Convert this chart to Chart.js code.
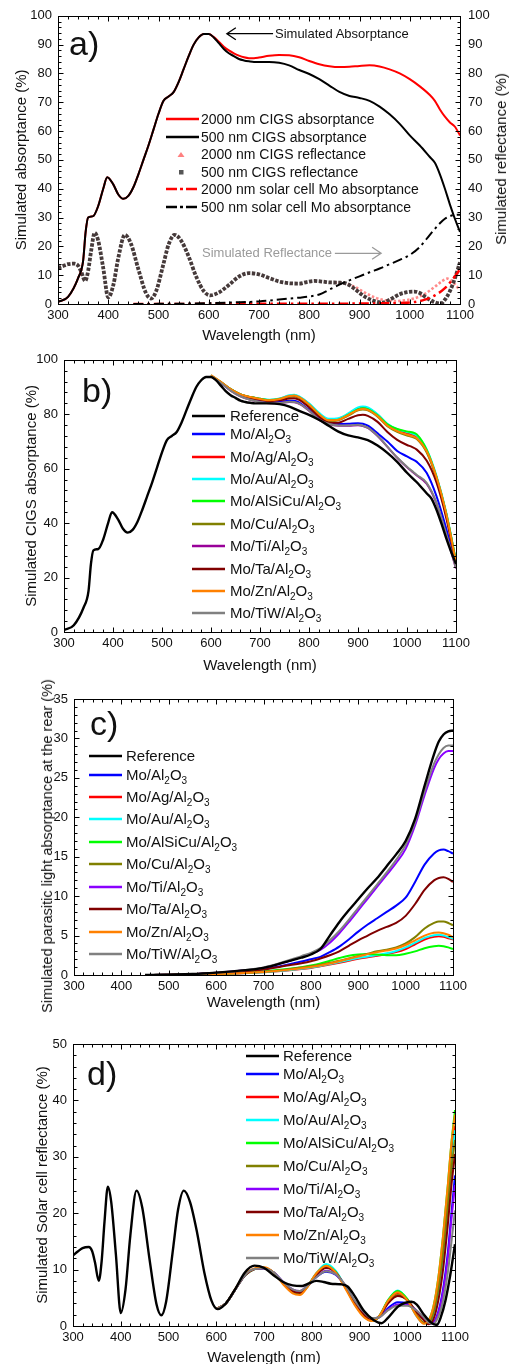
<!DOCTYPE html>
<html>
<head>
<meta charset="utf-8">
<script src="https://cdn.jsdelivr.net/npm/chart.js@4.4.1/dist/chart.umd.min.js"></script>
<style>
  html, body { margin: 0; padding: 0; background: #fff; overflow: hidden; }
  body { width: 513px; height: 1364px; position: relative; font-family: "Liberation Sans", Arial, sans-serif; color: #111; }
  canvas { position: absolute; left: 0; display: block; }
  .tag { position: absolute; font-size: 34px; line-height: 34px; }
  .leg { position: absolute; white-space: nowrap; height: 18px; line-height: 18px; width: 300px; }
  .leg svg { position: absolute; left: 0; top: 0; }
  .leg span { position: absolute; top: 0; }
  sub { font-size: 10px; vertical-align: -4px; line-height: 0; }
  .note { position: absolute; font-size: 13px; line-height: 16px; white-space: nowrap; }
  .vtitle { position: absolute; white-space: nowrap; transform: translate(-50%, -50%) rotate(-90deg); line-height: 18px; }
</style>
</head>
<body>
<canvas id="chartA" width="513" height="346" style="top:0px"></canvas>
<canvas id="chartB" width="513" height="330" style="top:346px"></canvas>
<canvas id="chartC" width="513" height="358" style="top:662px"></canvas>
<canvas id="chartD" width="513" height="352" style="top:1020px"></canvas>

<div class="tag" style="left:69px;top:26px">a)</div>
<div class="tag" style="left:82px;top:373px">b)</div>
<div class="tag" style="left:90px;top:706px">c)</div>
<div class="tag" style="left:87px;top:1056px">d)</div>

<div class="note" style="left:275px;top:26px">Simulated Absorptance</div>
<div class="note" style="left:202px;top:245px;color:#9a9a9a">Simulated Reflectance</div>
<div class="vtitle" style="left:501px;top:159px;font-size:15px">Simulated reflectance (%)</div>
<div class="vtitle" style="left:47px;top:846px;font-size:14.5px">Simulated parasitic light absorptance at the rear (%)</div>

<script>
// ---- panel a / shared data ----
const WL_ABS = [300, 320, 340, 350, 355, 360, 370, 380, 390, 398, 410, 420, 430, 440, 450, 460, 470, 480, 490, 500,
  510, 520, 530, 540, 550, 560, 570, 580, 590, 600, 610, 620, 630, 640, 650, 660, 670, 680, 690, 700,
  720, 740, 760, 780, 800, 820, 840, 860, 880, 900, 920, 940, 960, 980, 1000, 1020, 1040, 1050, 1060, 1070,
  1080, 1090, 1100];
// 500 nm CIGS absorptance (= reference of panel b)
const ABS_500 = [0.7, 2.5, 9, 15, 25, 30, 30.5, 34, 40, 44, 41.5, 38, 36.5, 37.5, 40.5, 45, 50, 55, 60.5, 66,
  70.5, 72, 73.5, 77, 81.5, 86, 90, 92.5, 93.7, 93.7, 92.5, 90.5, 88.5, 87, 86, 85, 84.5, 84.2, 84, 84,
  84, 83.7, 82.8, 81.2, 79.8, 78, 75.8, 73.6, 72.2, 71.5, 70.5, 68.5, 65.8, 62.5, 58.5, 55, 51, 49, 45, 40,
  34.5, 29.5, 25];
const ABS_2000 = [0.7, 2.5, 9, 15, 25, 30, 30.5, 34, 40, 44, 41.5, 38, 36.5, 37.5, 40.5, 45, 50, 55, 60.5, 66,
  70.5, 72, 73.5, 77, 81.5, 86, 90, 92.5, 93.7, 93.7, 92.6, 91, 89.3, 88, 87, 86.2, 85.6, 85.3, 85.3, 85.5,
  86.1, 86.4, 86.3, 85.6, 84.3, 83.2, 82.5, 82.2, 82.3, 82.6, 82.8, 82.4, 81.4, 80, 78, 75.5, 72.5, 70.5, 67.5, 65,
  63, 61.5, 58.5];

const WL_REFL = [300, 310, 320, 333, 340, 346, 354, 360, 366, 373, 380, 390, 400, 410, 420, 433, 445, 460, 475, 485,
  495, 510, 520, 532, 545, 560, 575, 590, 603, 620, 640, 660, 680, 700, 720, 740, 760, 780, 795, 810,
  825, 840, 860, 875, 890, 910, 930, 946, 960, 980, 995, 1009, 1020, 1035, 1050, 1062, 1070, 1080, 1090, 1100];
// 500 nm CIGS reflectance (= reference of panel d)
const REFL_500 = [12.5, 13.2, 13.8, 14.0, 13.3, 11.3, 8.0, 11.5, 18.5, 24.7, 22, 12.5, 2.3, 6.5, 16, 24, 21, 12, 3.8, 1.9,
  4.3, 14, 20.6, 24, 22, 16.5, 9.5, 4.5, 3.0, 4.0, 6.6, 9.5, 10.7, 10.3, 9.0, 7.8, 7.2, 7.1, 7.6, 8.0,
  7.8, 7.5, 7.4, 7.0, 5.3, 2.6, 1.0, 0.5, 1.5, 3.4, 4.1, 4.3, 3.8, 2.0, 0.6, 0.2, 1.5, 4.5, 9.0, 14.5];
const WL_REFL_2000 = [850, 870, 890, 910, 930, 950, 970, 990, 1010, 1030, 1050, 1065, 1075, 1085, 1095, 1100];
const REFL_2000 = [7.4, 7.2, 6.0, 4.0, 2.3, 1.3, 1.0, 1.3, 2.0, 3.5, 6.0, 8.0, 8.8, 7.8, 5.8, 5.0];

// rear (Mo) absorptance, grid shared with panel c
const WL_C = [450, 500, 550, 600, 650, 700, 750, 780, 800, 820, 840, 860, 880, 900, 920, 940, 960, 980, 1000, 1020,
  1040, 1060, 1070, 1080, 1090, 1100];
const MO_500 = [0, 0.05, 0.12, 0.3, 0.55, 0.9, 1.7, 2.2, 2.6, 3.3, 5.0, 6.7, 8.2, 9.6, 11, 12.3, 13.8, 15.3, 17, 19.8,
  24, 28, 29.6, 30.5, 30.9, 31];
const WL_MO_2000 = [450, 600, 700, 800, 900, 950, 1000, 1030, 1050, 1070, 1085, 1100];
const MO_2000 = [0, 0.05, 0.1, 0.1, 0.15, 0.25, 0.5, 1.5, 3, 5.5, 8.5, 12];

// ---- panel b: CIGS absorptance ----
const WL_B = [600, 620, 640, 660, 680, 700, 720, 740, 760, 770, 780, 800, 820, 840, 860, 880, 900, 910, 920, 940,
  960, 980, 1000, 1010, 1020, 1040, 1060, 1080, 1100];
const B_AL2O3 = [94.0, 91.5, 88.8, 86.8, 85.6, 84.8, 84.3, 84.5, 85.0, 85.0, 84.3, 81.6, 78.4, 77.0, 76.4, 76.5, 76.7, 76.5, 75.8, 73,
  70, 66.5, 64.5, 63.5, 62.5, 58.5, 50, 38, 24];
const B_AG = [94.2, 91.8, 89.2, 87.3, 86.3, 85.7, 85.2, 85.7, 86.8, 87.0, 86.4, 83.8, 80.3, 78, 78.3, 80, 82.2, 82.5, 82.2, 79.8,
  76.2, 74.2, 73, 72.5, 71.7, 66.5, 57, 43.5, 25.8];
const B_AU = [94.3, 91.8, 89.2, 87.3, 86.3, 85.7, 85.3, 85.8, 87.0, 87.2, 86.6, 84, 80.6, 78.3, 78.5, 80.3, 82.5, 82.8, 82.5, 80,
  76.5, 74.5, 73.5, 73, 72.2, 67.2, 57.5, 44, 26];
const B_ALSICU = [94.2, 91.8, 89.2, 87.3, 86.3, 85.7, 85.2, 85.6, 86.6, 86.8, 86.2, 83.5, 80, 77.6, 78, 79.8, 81.8, 82.2, 81.9, 79.6,
  76.3, 74.6, 73.7, 73.4, 72.6, 67, 57, 43.5, 26];
const B_CU = [94.2, 91.8, 89.2, 87.3, 86.3, 85.6, 85.0, 85.4, 86.4, 86.6, 86.0, 83.4, 79.8, 77.6, 77.8, 79.5, 81.4, 81.7, 81.4, 79.1,
  75.6, 73.5, 72.2, 71.7, 70.9, 66, 56.5, 43, 25.3];
const B_TI = [94.0, 91.5, 88.7, 86.6, 85.3, 84.5, 84.0, 84.1, 84.5, 84.4, 83.8, 81.3, 78.0, 76.4, 75.8, 75.8, 76.0, 75.7, 75, 72,
  68, 64, 60.5, 59, 57.5, 54.5, 47.3, 35.8, 23.3];
const B_TA = [94.1, 91.7, 89.0, 87.1, 86.0, 85.3, 84.8, 85.1, 85.8, 85.9, 85.3, 82.6, 79.2, 77.0, 76.9, 78.3, 79.6, 79.8, 79.4, 77.2,
  73.5, 70.6, 68.7, 68, 67, 63, 55, 42, 25];
const B_ZN = [94.4, 91.9, 89.2, 87.3, 86.3, 85.6, 85.1, 85.6, 86.7, 86.9, 86.3, 83.6, 80.1, 77.8, 78.0, 79.7, 81.6, 81.9, 81.6, 79.3,
  75.8, 73.8, 72.5, 72, 71.2, 66.5, 57, 43.5, 25.5];
const B_TIW = [94.0, 91.5, 88.7, 86.6, 85.3, 84.5, 84.0, 84.1, 84.6, 84.5, 83.9, 81.4, 78.1, 76.5, 75.9, 75.9, 76.1, 75.8, 75.1, 72.1,
  68.1, 64.1, 60.7, 59.2, 57.7, 54.8, 47.6, 36, 23.5];

// ---- panel c: parasitic absorptance at the rear ----
const C_AL2O3 = [0, 0.04, 0.1, 0.25, 0.45, 0.75, 1.3, 1.7, 2.0, 2.3, 2.9, 3.6, 4.5, 5.5, 6.4, 7.2, 8.0, 8.8, 9.8, 11.8,
  14.0, 15.4, 15.8, 15.9, 15.7, 15.4];
const C_AG = [0, 0.02, 0.05, 0.11, 0.2, 0.34, 0.57, 0.75, 0.9, 1.1, 1.32, 1.55, 1.8, 2.05, 2.25, 2.45, 2.65, 2.9, 3.3, 3.9,
  4.5, 4.85, 4.9, 4.85, 4.65, 4.5];
const C_AU = [0, 0.02, 0.05, 0.12, 0.22, 0.36, 0.6, 0.8, 0.95, 1.15, 1.4, 1.65, 1.9, 2.15, 2.35, 2.55, 2.75, 3.05, 3.5, 4.1,
  4.7, 5.05, 5.1, 5.0, 4.8, 4.6];
const C_ALSICU = [0, 0.02, 0.06, 0.15, 0.28, 0.45, 0.75, 1.0, 1.2, 1.45, 1.8, 2.15, 2.45, 2.6, 2.65, 2.6, 2.5, 2.5, 2.7, 3.0,
  3.4, 3.65, 3.7, 3.65, 3.5, 3.3];
const C_CU = [0, 0.02, 0.05, 0.12, 0.25, 0.4, 0.7, 0.95, 1.1, 1.3, 1.55, 1.8, 2.1, 2.4, 2.7, 3.0, 3.2, 3.5, 4.0, 4.8,
  5.9, 6.6, 6.8, 6.8, 6.6, 6.3];
const C_TI = [0, 0.05, 0.12, 0.3, 0.55, 0.9, 1.7, 2.3, 2.7, 3.2, 4.1, 5.3, 6.7, 8.2, 9.7, 11.2, 12.7, 14.2, 16.0, 19.0,
  22.8, 26.2, 27.4, 28.1, 28.4, 28.4];
const C_TA = [0, 0.04, 0.1, 0.25, 0.42, 0.7, 1.2, 1.5, 1.75, 2.1, 2.5, 3.0, 3.7, 4.4, 5.0, 5.6, 6.1, 6.6, 7.5, 9.0,
  10.8, 12.0, 12.3, 12.4, 12.2, 11.8];
const C_ZN = [0, 0.02, 0.05, 0.12, 0.23, 0.38, 0.65, 0.85, 1.0, 1.2, 1.45, 1.75, 2.05, 2.35, 2.65, 2.9, 3.1, 3.35, 3.8, 4.4,
  5.0, 5.35, 5.4, 5.3, 5.1, 4.8];
const C_TIW = [0, 0.05, 0.12, 0.3, 0.55, 0.95, 1.8, 2.4, 2.8, 3.4, 4.4, 5.6, 7.0, 8.5, 10, 11.5, 13, 14.6, 16.5, 19.4,
  23.3, 26.8, 28.0, 28.8, 29.1, 29.1];

// ---- panel d: solar cell reflectance ----
const WL_D = [600, 620, 640, 660, 680, 700, 720, 740, 760, 775, 790, 810, 830, 850, 870, 890, 910, 925, 940, 960,
  980, 1000, 1020, 1035, 1045, 1055, 1065, 1075, 1085, 1092, 1100];
const D_AL2O3 = [3, 4, 6.5, 9, 10.1, 10.2, 9.5, 7.8, 6.4, 6.1, 7.0, 8.7, 9.6, 9.1, 7.1, 4.3, 2.2, 1.3, 1.5, 3.2,
  4.2, 4.0, 2.6, 1.3, 0.4, 0.6, 2.5, 6.5, 13, 19.5, 26.7];
const D_AG = [3, 4, 6.5, 9, 10.1, 10.3, 9.5, 7.6, 6.0, 5.7, 6.9, 9.3, 10.6, 9.6, 6.9, 3.9, 1.7, 1.0, 1.6, 4.4,
  5.8, 4.6, 1.8, 0.5, 0.7, 2.8, 7, 14, 22.5, 29.5, 35.5];
const D_AU = [3, 4, 6.5, 9, 10.1, 10.3, 9.5, 7.6, 6.0, 5.7, 6.9, 9.4, 11, 9.8, 7.0, 4.0, 1.7, 1.0, 1.6, 4.6,
  6.3, 4.7, 1.7, 0.5, 0.5, 2, 5.5, 11.5, 20, 27, 34.7];
const D_ALSICU = [3, 4, 6.5, 9, 10.1, 10.3, 9.5, 7.6, 6.0, 5.7, 6.9, 9.3, 10.7, 9.6, 6.9, 3.9, 1.7, 1.0, 1.6, 4.6,
  6.2, 4.8, 1.9, 0.5, 1.0, 3.5, 8.5, 16, 25, 32, 38.3];
const D_CU = [3, 4, 6.5, 9, 10.1, 10.3, 9.5, 7.6, 6.0, 5.7, 6.9, 9.2, 10.4, 9.5, 6.9, 4.0, 1.8, 1.0, 1.6, 4.2,
  5.5, 4.5, 1.9, 0.6, 0.6, 2.4, 6.5, 13, 21, 27.5, 33];
const D_TI = [3, 4, 6.5, 9, 10.1, 10.2, 9.5, 7.8, 6.5, 6.2, 7.1, 8.8, 9.8, 9.2, 7.2, 4.4, 2.3, 1.4, 1.5, 2.9,
  3.8, 3.8, 2.7, 1.4, 0.5, 0.6, 2.3, 6, 12, 18.5, 25];
const D_TA = [3, 4, 6.5, 9, 10.1, 10.3, 9.5, 7.7, 6.2, 5.9, 6.9, 9.1, 10.3, 9.5, 7.0, 4.1, 1.9, 1.1, 1.5, 4.0,
  5.3, 4.6, 2.4, 1.0, 0.3, 1.2, 4.5, 10, 18, 24.5, 30.5];
const D_ZN = [3, 4, 6.6, 9.2, 10.2, 10.4, 9.5, 7.4, 5.8, 5.5, 6.8, 9.4, 10.7, 9.5, 6.7, 3.7, 1.5, 0.9, 1.6, 4.5,
  6.0, 4.6, 1.7, 0.4, 1.0, 3.5, 8.5, 16, 25, 32, 37.5];
const D_TIW = [3, 4, 6.5, 9, 10.1, 10.2, 9.5, 7.8, 6.5, 6.2, 7.1, 8.7, 9.7, 9.2, 7.3, 4.5, 2.4, 1.4, 1.5, 2.8,
  3.6, 3.6, 2.7, 1.5, 0.6, 0.4, 1.6, 4.5, 9.5, 14.5, 20.5];

const A_LABELS = ["2000 nm CIGS absorptance", "500 nm CIGS absorptance", "2000 nm CIGS reflectance",
  "500 nm CIGS reflectance", "2000 nm solar cell Mo absorptance", "500 nm solar cell Mo absorptance"];
const STACKS = ["Reference", "Mo/Al2O3", "Mo/Ag/Al2O3", "Mo/Au/Al2O3", "Mo/AlSiCu/Al2O3", "Mo/Cu/Al2O3",
  "Mo/Ti/Al2O3", "Mo/Ta/Al2O3", "Mo/Zn/Al2O3", "Mo/TiW/Al2O3"];

const B_SERIES = [B_AL2O3, B_AG, B_AU, B_ALSICU, B_CU, B_TI, B_TA, B_ZN, B_TIW];
const C_SERIES = [C_AL2O3, C_AG, C_AU, C_ALSICU, C_CU, C_TI, C_TA, C_ZN, C_TIW];
const D_SERIES = [D_AL2O3, D_AG, D_AU, D_ALSICU, D_CU, D_TI, D_TA, D_ZN, D_TIW];

const FONT = '"Liberation Sans", Arial, Helvetica, sans-serif';
const INK = "#111";
const STACK_COLORS = ["#000000", "#0000ff", "#ff0000", "#00ffff", "#00ff00", "#808000", "#8a00ff", "#800000", "#ff8000", "#808080"];

Chart.defaults.font.family = FONT;

// frame + inward ticks on all four sides
const frameTicks = {
  id: "frameTicks",
  afterDatasetsDraw(chart, args, opts) {
    const { ctx, chartArea: a } = chart;
    const xs = chart.scales.x, ys = chart.scales.y;
    const L = Math.round(a.left) + 0.5, R = Math.round(a.right) + 0.5;
    const T = Math.round(a.top) + 0.5, B = Math.round(a.bottom) + 0.5;
    ctx.save();
    ctx.strokeStyle = "#000";
    ctx.lineWidth = 1;
    ctx.beginPath();
    const nx = Math.round((xs.max - xs.min) / opts.xMinor);
    for (let i = 0; i <= nx; i++) {
      const px = Math.round(xs.getPixelForValue(xs.min + i * opts.xMinor)) + 0.5;
      const len = i % opts.xEvery === 0 ? 5 : 3;
      ctx.moveTo(px, B); ctx.lineTo(px, B - len);
      ctx.moveTo(px, T); ctx.lineTo(px, T + len);
    }
    const ny = Math.round((ys.max - ys.min) / opts.yMinor);
    for (let i = 0; i <= ny; i++) {
      const py = Math.round(ys.getPixelForValue(ys.min + i * opts.yMinor)) + 0.5;
      const len = i % opts.yEvery === 0 ? 5 : 3;
      ctx.moveTo(L, py); ctx.lineTo(L + len, py);
      ctx.moveTo(R, py); ctx.lineTo(R - len, py);
    }
    ctx.stroke();
    ctx.strokeRect(L, T, R - L, B - T);
    ctx.restore();
  }
};

// open-head arrows used by the notes in panel a
const arrows = {
  id: "arrows",
  afterDatasetsDraw(chart, args, opts) {
    if (!opts || !opts.items) return;
    const { ctx } = chart;
    const xs = chart.scales.x, ys = chart.scales.y;
    ctx.save();
    opts.items.forEach((it) => {
      const x1 = xs.getPixelForValue(it.from), x2 = xs.getPixelForValue(it.to);
      const y = ys.getPixelForValue(it.y);
      const dir = x2 > x1 ? 1 : -1;
      ctx.strokeStyle = it.color;
      ctx.lineWidth = 1.3;
      ctx.beginPath();
      ctx.moveTo(x1, y); ctx.lineTo(x2, y);
      ctx.moveTo(x2 - dir * 9, y - 6); ctx.lineTo(x2, y); ctx.lineTo(x2 - dir * 9, y + 6);
      ctx.stroke();
    });
    ctx.restore();
  }
};

Chart.register(frameTicks, arrows);

function pts(wl, vals) {
  return wl.map((x, i) => ({ x: x, y: vals[i] }));
}

function lineSet(wl, vals, color, width, order, extra) {
  return Object.assign({
    data: pts(wl, vals),
    borderColor: color,
    backgroundColor: color,
    borderWidth: width,
    pointRadius: 0,
    fill: false,
    cubicInterpolationMode: "monotone",
    order: order
  }, extra || {});
}

function axisFont(size) {
  return { family: FONT, size: size };
}

function makePanel(id, box, datasets, yCfg, extra) {
  const scales = {
    x: {
      type: "linear", min: 300, max: 1100,
      ticks: { stepSize: 100, padding: 4, color: INK, font: axisFont(13), maxRotation: 0, autoSkip: false, callback: (v) => String(v) },
      grid: { display: false, drawTicks: false },
      border: { display: false },
      title: { display: true, text: "Wavelength (nm)", color: INK, font: axisFont(15), padding: 0 },
      afterFit: (s) => { s.height = box.h - box.pad.b - box.area.b; }
    },
    y: {
      type: "linear", position: "left", min: 0, max: yCfg.max,
      ticks: { stepSize: yCfg.step, padding: 6, color: INK, font: axisFont(13), callback: (v) => String(v) },
      grid: { display: false, drawTicks: false },
      border: { display: false },
      title: { display: !!yCfg.title, text: yCfg.title || "", color: INK, font: axisFont(15), padding: 0 },
      afterFit: (s) => { s.width = box.area.l - box.pad.l; }
    }
  };
  if (extra && extra.rightAxis) {
    scales.y2 = {
      type: "linear", position: "right", min: 0, max: yCfg.max,
      ticks: { stepSize: yCfg.step, padding: 8, color: INK, font: axisFont(13), callback: (v) => String(v) },
      grid: { display: false, drawTicks: false },
      border: { display: false },
      afterFit: (s) => { s.width = (513 - box.pad.r) - box.area.r; }
    };
  }
  return new Chart(document.getElementById(id), {
    type: "line",
    data: { datasets: datasets },
    options: {
      responsive: false,
      animation: false,
      events: [],
      layout: { padding: { top: box.area.t, left: box.pad.l, right: box.pad.r, bottom: box.pad.b } },
      scales: scales,
      plugins: {
        legend: { display: false },
        tooltip: { enabled: false },
        frameTicks: { xMinor: 20, xEvery: 5, yMinor: yCfg.minor, yEvery: Math.round(yCfg.step / yCfg.minor) },
        arrows: (extra && extra.arrows) || {}
      }
    }
  });
}

// ---- HTML legends (real text, with subscripts) ----
function subHTML(s) {
  return s.replace(/(\d)/g, "<sub>$1</sub>");
}

function sampleSVG(kind, color) {
  if (kind === "tri") {
    return '<svg width="34" height="18"><polygon points="15,7 18.5,12 11.5,12" fill="' + color + '"/></svg>';
  }
  if (kind === "sq") {
    return '<svg width="34" height="18"><rect x="13" y="7" width="4.5" height="4.5" fill="' + color + '"/></svg>';
  }
  const dash = kind === "dashdot" ? ' stroke-dasharray="11 3 3 3"' : "";
  return '<svg width="34" height="18"><line x1="0" y1="9" x2="33" y2="9" stroke="' + color +
    '" stroke-width="2.5"' + dash + "/></svg>";
}

function addLegend(items, x0, textX, rows, size) {
  items.forEach((it, i) => {
    const row = document.createElement("div");
    row.className = "leg";
    row.style.left = x0 + "px";
    row.style.top = rows[i] - 9 + "px";
    row.style.fontSize = size + "px";
    row.innerHTML = sampleSVG(it.kind, it.color) + '<span style="left:' + (textX - x0) + 'px">' + it.html + "</span>";
    document.body.appendChild(row);
  });
}

function stackLegend(tiColor) {
  return STACKS.map((s, i) => ({ kind: "line", color: i === 6 ? tiColor : STACK_COLORS[i], html: subHTML(s) }));
}

function stackDatasets(refWl, refVals, wl, series, tiColor) {
  const sets = [lineSet(refWl, refVals, "#000", 2.4, 0)];
  series.forEach((vals, i) => {
    const color = i === 5 ? tiColor : STACK_COLORS[i + 1];
    sets.push(lineSet(wl, vals, color, 2, 9 - i));
  });
  return sets;
}

// ---- panel a ----
makePanel("chartA",
  { h: 346, area: { l: 58, r: 460, t: 14, b: 304 }, pad: { l: 13, r: 4, b: 1 } },
  [
    lineSet(WL_ABS, ABS_500, "#000", 2, 1),
    lineSet(WL_ABS, ABS_2000, "#ff0000", 2, 2),
    lineSet(WL_C, MO_500, "#000", 2, 3, { yAxisID: "y2", borderDash: [10, 4, 2.5, 4] }),
    lineSet(WL_MO_2000, MO_2000, "#ff0000", 2.5, 4, { yAxisID: "y2", borderDash: [10, 4, 2.5, 4] }),
    lineSet(WL_REFL, REFL_500, "#463a3a", 3.8, 5, { yAxisID: "y2", borderDash: [3.4, 1.5] }),
    lineSet(WL_REFL_2000, REFL_2000, "#ff8a8a", 2.6, 6, { yAxisID: "y2", borderDash: [2.5, 2] })
  ],
  { max: 100, step: 10, minor: 2, title: "Simulated absorptance (%)" },
  {
    rightAxis: true,
    arrows: { items: [
      { from: 728, to: 636, y: 93.8, color: "#000" },
      { from: 851, to: 943, y: 17.6, color: "#9a9a9a" }
    ] }
  }
);
addLegend([
  { kind: "line", color: "#ff0000", html: A_LABELS[0] },
  { kind: "line", color: "#000", html: A_LABELS[1] },
  { kind: "tri", color: "#ff8080", html: A_LABELS[2] },
  { kind: "sq", color: "#555", html: A_LABELS[3] },
  { kind: "dashdot", color: "#ff0000", html: A_LABELS[4] },
  { kind: "dashdot", color: "#000", html: A_LABELS[5] }
], 166, 201, [119, 137, 154, 172, 189, 207], 14);

// ---- panel b ----
makePanel("chartB",
  { h: 330, area: { l: 64, r: 456, t: 10, b: 286 }, pad: { l: 23, r: 57, b: 1 } },
  stackDatasets(WL_ABS, ABS_500, WL_B, B_SERIES, "#990099"),
  { max: 100, step: 20, minor: 4, title: "Simulated CIGS absorptance (%)" }
);
addLegend(stackLegend("#990099"), 192, 230, [416, 434, 457, 479, 501, 524, 546, 569, 591, 613], 15);

// ---- panel c ----
makePanel("chartC",
  { h: 358, area: { l: 74, r: 453, t: 37, b: 313 }, pad: { l: 38, r: 60, b: 8 } },
  stackDatasets(WL_C, MO_500, WL_C, C_SERIES, "#8a00ff"),
  { max: 35, step: 5, minor: 1, title: "" }
);
addLegend(stackLegend("#8a00ff"), 89, 126, [756, 775, 797, 819, 842, 864, 887, 909, 932, 954], 15);

// ---- panel d ----
makePanel("chartD",
  { h: 352, area: { l: 73, r: 455, t: 24, b: 306 }, pad: { l: 34, r: 58, b: 5 } },
  stackDatasets(WL_REFL, REFL_500, WL_D, D_SERIES, "#8a00ff"),
  { max: 50, step: 10, minor: 2, title: "Simulated Solar cell reflectance (%)" }
);
addLegend(stackLegend("#8a00ff"), 246, 283, [1056, 1074, 1097, 1120, 1143, 1166, 1189, 1212, 1235, 1258], 15);
</script>
</body>
</html>
